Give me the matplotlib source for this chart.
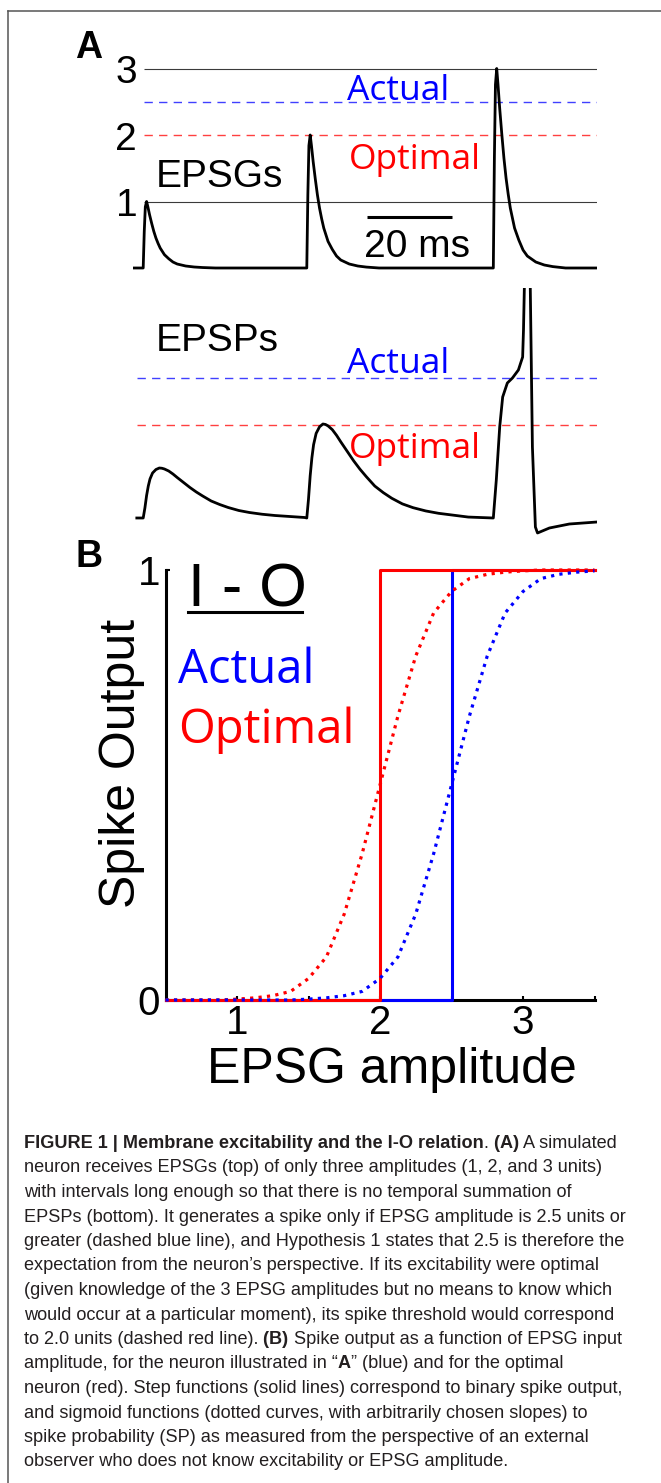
import matplotlib.pyplot as plt
from matplotlib.lines import Line2D
from matplotlib import font_manager

W, H = 661, 1483

# ---- panel A top: EPSG trace (time in ms, amplitude in units) ----
event_onsets = [2.4, 40.9, 84.8]
epsg_amps = [1, 2, 3]
epsg_kernel_t = [0, 0.25, 0.5, 0.8, 1.1, 1.5, 2.0, 2.5, 3.0, 3.5, 4.0, 5.0, 6.0, 7.0, 8.0,
                 10.0, 12.0, 14.0, 17.0]
epsg_kernel_v = [0, 0.55, 0.92, 1.0, 0.92, 0.80, 0.67, 0.55, 0.45, 0.37, 0.30, 0.20, 0.14,
                 0.09, 0.06, 0.03, 0.015, 0.007, 0]
trace_end = 109.2
ref_levels = [1, 3]
level_labels = [1, 2, 3]
actual_thr = 2.5
optimal_thr = 2.0
scale_bar_start, scale_bar_len, scale_bar_level = 55.1, 20, 0.77

# ---- panel A bottom: EPSP trace (arbitrary units) ----
epsp_peaks = [5.0, 9.4]
epsp_kernel_t = [0, 0.4, 0.8, 1.2, 1.6, 2.2, 3.0, 3.8, 4.4, 5.0, 6.0, 7.0, 8.0, 9.5, 11.0,
                 12.5, 14.0, 16.0, 18.0, 20.0, 22.5, 25.0, 28.0, 31.0, 34.5, 38.0]
epsp_kernel_v = [0, 0.20, 0.45, 0.64, 0.78, 0.90, 0.97, 1.0, 0.995, 0.98, 0.94, 0.88, 0.81,
                 0.71, 0.61, 0.52, 0.44, 0.34, 0.27, 0.21, 0.15, 0.11, 0.075, 0.05, 0.03, 0.01]
spike_t = [84.8, 85.5, 86.3, 87.0, 88.1, 89.3, 90.7, 91.7, 91.9, 92.1, 92.8, 93.5, 94.0,
           94.7, 95.2, 98.0, 102.7, 109.2]
spike_v = [0, 3.8, 9.1, 12.1, 13.5, 14.0, 14.8, 16.1, 18.8, 23.0, 40.0, 23.0, 7.1,
           -0.9, -1.5, -1.0, -0.6, -0.4]
epsp_actual = 14.0
epsp_optimal = 9.3

# ---- panel B: I-O relation ----
sp_x = [0.5, 0.625, 0.75, 0.875, 1.0, 1.125, 1.25, 1.375, 1.5, 1.625, 1.75, 1.875, 2.0,
        2.125, 2.25, 2.375, 2.5, 2.625, 2.75, 2.875, 3.0, 3.125, 3.25, 3.375, 3.5]
sp_optimal = [0, 0, 0, 0, 0.002, 0.005, 0.01, 0.02, 0.05, 0.10, 0.20, 0.34, 0.50,
              0.66, 0.80, 0.90, 0.95, 0.98, 0.99, 0.995, 0.998, 1, 1, 1, 1]
sp_actual = [0, 0, 0, 0, 0, 0, 0, 0, 0.002, 0.005, 0.01, 0.02, 0.05,
             0.10, 0.20, 0.34, 0.50, 0.66, 0.80, 0.90, 0.95, 0.98, 0.99, 0.995, 0.998]
step_actual_x = [0.5, 2.5, 2.5, 3.5]
step_optimal_x = [0.5, 2.0, 2.0, 3.5]
step_y = [0, 0, 1, 1]

caption = [
    [("FIGURE 1 | Membrane excitability and the I-O relation", True), (".", False),
     (" (A)", True), (" A simulated", False)],
    [("neuron receives EPSGs (top) of only three amplitudes (1, 2, and 3 units)", False)],
    [("with intervals long enough so that there is no temporal summation of", False)],
    [("EPSPs (bottom). It generates a spike only if EPSG amplitude is 2.5 units or", False)],
    [("greater (dashed blue line), and Hypothesis 1 states that 2.5 is therefore the", False)],
    [("expectation from the neuron\u2019s perspective. If its excitability were optimal", False)],
    [("(given knowledge of the 3 EPSG amplitudes but no means to know which", False)],
    [("would occur at a particular moment), its spike threshold would correspond", False)],
    [("to 2.0 units (dashed red line).", False), (" (B)", True),
     (" Spike output as a function of EPSG input", False)],
    [("amplitude, for the neuron illustrated in \u201c", False), ("A", True),
     ("\u201d (blue) and for the optimal", False)],
    [("neuron (red). Step functions (solid lines) correspond to binary spike output,", False)],
    [("and sigmoid functions (dotted curves, with arbitrarily chosen slopes) to", False)],
    [("spike probability (SP) as measured from the perspective of an external", False)],
    [("observer who does not know excitability or EPSG amplitude.", False)],
]

plt.rcParams['font.family'] = ['Liberation Sans', 'DejaVu Sans']
BLUE, RED = '#0000ff', '#ff0000'
CALI = ['Open Sans', 'DejaVu Sans']

fig = plt.figure(figsize=(W / 100, H / 100), dpi=100)


def px_axes(left, top, right, bottom):
    return fig.add_axes([left / W, 1 - bottom / H, (right - left) / W, (bottom - top) / H])


def ftext(x, y, s, **kw):
    return fig.text(x / W, 1 - y / H, s, **kw)


# frame round the figure
fig.add_artist(Line2D([8 / W, 8 / W], [1 - 11 / H, 0], color='#555555', lw=1.1))
fig.add_artist(Line2D([8 / W, 1], [1 - 11 / H, 1 - 11 / H], color='#555555', lw=1.1))

# ---------------- A: EPSGs ----------------
ax_g = px_axes(133, 50, 597, 280)
ax_g.axis('off')
ax_g.set_xlim(0, trace_end)
ax_g.set_ylim((268 - 280) / 66.5, (268 - 50) / 66.5)

gt, gv = [0.0], [0.0]
for on, amp in zip(event_onsets, epsg_amps):
    gt += [on + k for k in epsg_kernel_t]
    gv += [amp * k for k in epsg_kernel_v]
gt.append(trace_end)
gv.append(0.0)

ax_g.hlines(ref_levels, 2.6, trace_end, color='#3a3a3a', lw=0.8)
ax_g.plot([2.6, trace_end], [actual_thr] * 2, color='#4040ff', lw=1.0, ls=(0, (6, 4.5)))
ax_g.plot([2.6, trace_end], [optimal_thr] * 2, color='#ff4040', lw=1.0, ls=(0, (6, 4.5)))
ax_g.plot(gt, gv, color='black', lw=2.0, solid_joinstyle='round')
ax_g.plot([scale_bar_start, scale_bar_start + scale_bar_len], [scale_bar_level] * 2,
          color='black', lw=2.2, solid_capstyle='butt')
for lv in level_labels:
    ax_g.text(1.0, lv - 0.22, str(lv), ha='right', va='baseline', fontsize=28)

ftext(89, 58, 'A', ha='center', va='baseline', fontsize=27, fontweight='bold')
ftext(347, 100, 'Actual', color=BLUE, fontsize=25.5, family=CALI, va='baseline')
ftext(349, 169, 'Optimal', color=RED, fontsize=25.5, family=CALI, va='baseline')
ftext(156, 187, 'EPSGs', fontsize=28, va='baseline')
ftext(417, 257, '20 ms', fontsize=28, va='baseline', ha='center')

# ---------------- A: EPSPs ----------------
ax_p = px_axes(133, 288, 597, 545)
ax_p.axis('off')
ax_p.set_xlim(0, trace_end)
ax_p.set_ylim(-2.7, 23.0)

pt, pv = [0.9], [0.0]
for on, pk in zip(event_onsets[:2], epsp_peaks):
    pt += [on + k for k in epsp_kernel_t]
    pv += [pk * k for k in epsp_kernel_v]
pt += spike_t
pv += spike_v

ax_p.plot([0.9, trace_end], [epsp_actual] * 2, color='#4040ff', lw=1.0, ls=(0, (6, 4.5)))
ax_p.plot([0.9, trace_end], [epsp_optimal] * 2, color='#ff4040', lw=1.0, ls=(0, (6, 4.5)))
ax_p.plot(pt, pv, color='black', lw=2.0, solid_joinstyle='round')

ftext(156, 351, 'EPSPs', fontsize=28, va='baseline')
ftext(347, 373, 'Actual', color=BLUE, fontsize=25.5, family=CALI, va='baseline')
ftext(349, 458, 'Optimal', color=RED, fontsize=25.5, family=CALI, va='baseline')

# ---------------- B: I-O relation ----------------
ax_b = px_axes(165.5, 570, 594.5, 1000)
ax_b.set_xlim(0.5, 3.5)
ax_b.set_ylim(0, 1)
for s in ('top', 'right'):
    ax_b.spines[s].set_visible(False)
for s in ('left', 'bottom'):
    ax_b.spines[s].set_linewidth(2.2)

ax_b.plot(step_actual_x, step_y, color=BLUE, lw=2.2, clip_on=False, zorder=3)
ax_b.plot(step_optimal_x, step_y, color=RED, lw=2.2, clip_on=False, zorder=3)
ax_b.plot(sp_x, sp_optimal, color=RED, lw=2.3, ls=':', clip_on=False, zorder=4)
ax_b.plot(sp_x, sp_actual, color=BLUE, lw=2.3, ls=':', clip_on=False, zorder=4)

ax_b.set_xticks([1, 2, 3])
ax_b.set_xticks([1.5, 2.5, 3.5], minor=True)
ax_b.set_yticks([0, 1])
ax_b.tick_params(which='both', direction='in', length=3, width=1.5, labelsize=29)
ax_b.tick_params(axis='x', pad=3)
ax_b.tick_params(axis='y', pad=4)

ftext(122, 763, 'Spike Output', rotation=90, ha='center', va='center', fontsize=36)
ftext(392, 1083, 'EPSG amplitude', ha='center', va='baseline', fontsize=36)
ftext(89, 567, 'B', ha='center', va='baseline', fontsize=27, fontweight='bold')
ftext(188, 606, 'I - O', fontsize=44, va='baseline')
fig.add_artist(Line2D([188 / W, 302 / W], [1 - 612 / H] * 2, color='black', lw=2.2))
ftext(178, 683, 'Actual', color=BLUE, fontsize=34, family=CALI, va='baseline')
ftext(178, 743, 'Optimal', color=RED, fontsize=34, family=CALI, va='baseline')

# ---------------- caption ----------------
names = {f.name for f in font_manager.fontManager.ttflist}
if 'Liberation Sans Narrow' in names:
    cap_font, cap_size = ['Liberation Sans Narrow', 'DejaVu Sans'], 14.5
else:
    cap_font, cap_size = ['Liberation Sans', 'DejaVu Sans'], 13.1

cap_ax = fig.add_axes([0, 0, 1, 1])
cap_ax.axis('off')
for i, pieces in enumerate(caption):
    y = 1148 + 24.5 * i
    prev = None
    for txt, bold in pieces:
        kw = dict(fontsize=cap_size, family=cap_font, color='#231f20',
                  fontweight='bold' if bold else 'normal')
        if prev is None:
            prev = ftext(24, y, txt, va='baseline', ha='left', **kw)
        else:
            prev = cap_ax.annotate(txt, xy=(1, 0), xycoords=prev,
                                   va='bottom', ha='left', **kw)

fig.savefig('out.png', dpi=100)
